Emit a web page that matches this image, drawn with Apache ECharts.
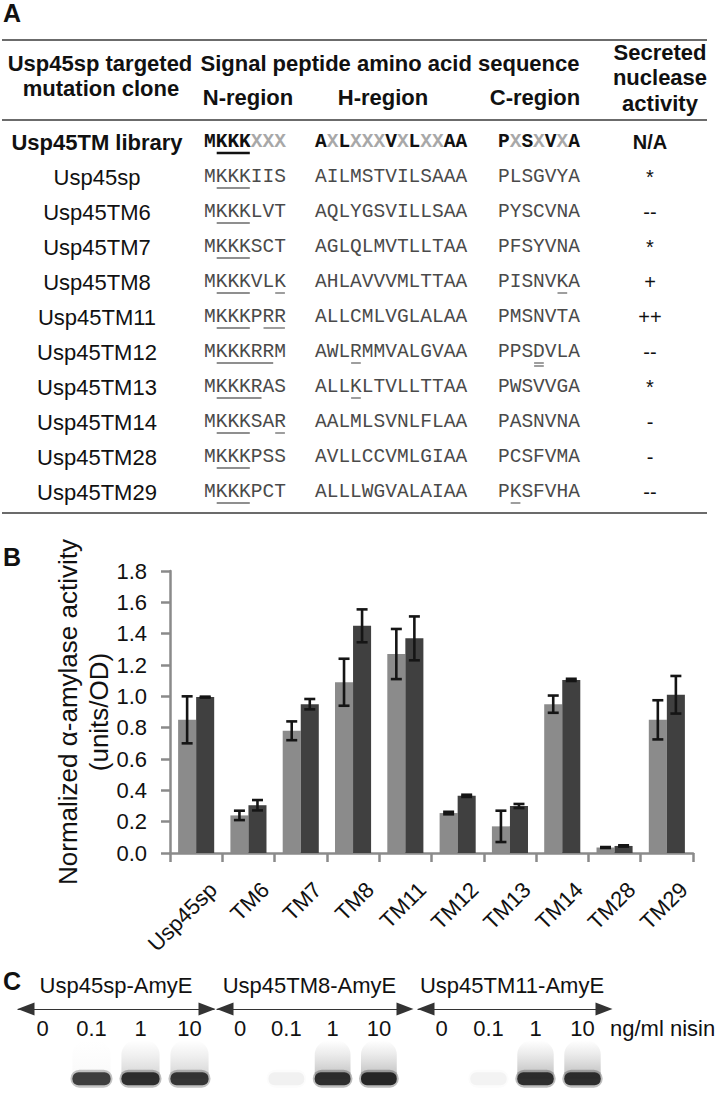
<!DOCTYPE html>
<html><head><meta charset="utf-8">
<script src="https://cdn.jsdelivr.net/npm/echarts@6/dist/echarts.min.js"></script>
<style>html,body{margin:0;padding:0;background:#fff}#c{width:720px;height:1096px}</style>
</head><body><div id="c"></div>
<script>
// ---------- Panel A data ----------
const clones = ['Usp45TM library','Usp45sp','Usp45TM6','Usp45TM7','Usp45TM8','Usp45TM11','Usp45TM12','Usp45TM13','Usp45TM14','Usp45TM28','Usp45TM29'];
const nRegion = ['MKKKXXX','MKKKIIS','MKKKLVT','MKKKSCT','MKKKVLK','MKKKPRR','MKKKRRM','MKKKRAS','MKKKSAR','MKKKPSS','MKKKPCT'];
const hRegion = ['AXLXXXVXLXXAA','AILMSTVILSAAA','AQLYGSVILLSAA','AGLQLMVTLLTAA','AHLAVVVMLTTAA','ALLCMLVGLALAA','AWLRMMVALGVAA','ALLKLTVLLTTAA','AALMLSVNLFLAA','AVLLCCVMLGIAA','ALLLWGVALAIAA'];
const cRegion = ['PXSXVXA','PLSGVYA','PYSCVNA','PFSYVNA','PISNVKA','PMSNVTA','PPSDVLA','PWSVVGA','PASNVNA','PCSFVMA','PKSFVHA'];
const nuclease = ['N/A','*','--','*','+','++','--','*','-','-','--'];
// underlined residues [first, last] (0-based); cDouble marks double underline
const nUnder = [[[1,3]],[[1,3]],[[1,3]],[[1,3]],[[1,3],[6,6]],[[1,3],[5,6]],[[1,5]],[[1,4]],[[1,3],[6,6]],[[1,3]],[[1,3]]];
const hUnder = [[],[],[],[],[],[],[[3,3]],[[3,3]],[],[],[]];
const cUnder = [[],[],[],[],[[5,5]],[],[],[],[],[],[[1,1]]];
const cDouble = [[],[],[],[],[],[],[[3,3]],[],[],[],[]];

// ---------- Panel B data ----------
const categories = ['Usp45sp','TM6','TM7','TM8','TM11','TM12','TM13','TM14','TM28','TM29'];
const lightVals = [0.85, 0.24, 0.78, 1.09, 1.27, 0.255, 0.17, 0.95, 0.035, 0.85];
const lightErr  = [0.15, 0.03, 0.06, 0.15, 0.16, 0.008, 0.10, 0.055, 0.003, 0.125];
const darkVals  = [0.995, 0.305, 0.95, 1.45, 1.37, 0.365, 0.30, 1.105, 0.045, 1.01];
const darkErr   = [0.003, 0.033, 0.033, 0.105, 0.14, 0.007, 0.013, 0.007, 0.004, 0.12];

// ---------- Panel C data ----------
const constructs = ['Usp45sp-AmyE','Usp45TM8-AmyE','Usp45TM11-AmyE'];
const nisin = ['0','0.1','1','10'];
const bandCore = [[0,0.85,0.95,0.9],[0,0.05,0.95,1.0],[0,0.04,0.95,0.95]];
const bandSmear = [[0,0.04,0.28,0.28],[0,0,0.4,0.42],[0,0,0.42,0.42]];

// ---------- layout / style ----------
const SANS = 'Liberation Sans, Arial, sans-serif';
const MONO = 'Liberation Mono, Courier New, monospace';
const SEQ_FS = 19.5, CW = SEQ_FS * 0.6;
const COL = {name: 97, n: 204, h: 315, c: 498, nuc: 650};
const GAPPCT = 0.31;
const gelGrids = [
  {left: 18, width: 196, off: [8, -7]},
  {left: 217, width: 185, off: [8, 3]},
  {left: 418, width: 188, off: [8, -2]}
];

function runs(s){
  let out = '', cur = '', curType = null;
  for (const ch of s){
    const t = ch === 'X' ? 'g' : 'b';
    if (t !== curType && cur){ out += '{'+curType+'|'+cur+'}'; cur=''; }
    curType = t; cur += ch;
  }
  if (cur) out += '{'+curType+'|'+cur+'}';
  return out;
}

function underlines(x0, y, ranges, color, w, dbl){
  const res = [];
  ranges.forEach(r => {
    const xa = x0 + r[0]*CW + 1, xb = x0 + (r[1]+1)*CW - 1;
    res.push({type:'line', shape:{x1:xa,y1:y,x2:xb,y2:y}, style:{stroke:color, lineWidth:w}});
    if (dbl) res.push({type:'line', shape:{x1:xa,y1:y+3,x2:xb,y2:y+3}, style:{stroke:color, lineWidth:w}});
  });
  return res;
}

function rowRender(params, api){
  const i = api.value(1);
  const y = api.coord([0, i])[1];
  const lib = i === 0;
  const ch = [];
  ch.push({type:'text', style:{text: clones[i], x: COL.name, y: y, align:'center', verticalAlign:'middle',
    fontSize: 22, fontFamily: SANS, fontWeight: lib ? 'bold' : 'normal', fill:'#111'}});
  const seqs = [[nRegion[i], COL.n], [hRegion[i], COL.h], [cRegion[i], COL.c]];
  seqs.forEach(([s, x]) => {
    if (lib){
      ch.push({type:'text', style:{text: runs(s), x: x, y: y, align:'left', verticalAlign:'middle',
        fontSize: SEQ_FS, fontFamily: MONO, fontWeight:'bold',
        rich: {b:{fill:'#111', fontSize:SEQ_FS, fontFamily:MONO, fontWeight:'bold'},
               g:{fill:'#a8a8a8', fontSize:SEQ_FS, fontFamily:MONO, fontWeight:'bold'}}}});
    } else {
      ch.push({type:'text', style:{text: s, x: x, y: y, align:'left', verticalAlign:'middle',
        fontSize: SEQ_FS, fontFamily: MONO, fill:'#4a4a4a'}});
    }
  });
  const uy = y + 11;
  const uc = lib ? '#111' : '#6a6a6a', uw = lib ? 2.5 : 1.3;
  ch.push(...underlines(COL.n, uy, nUnder[i], uc, uw, false));
  ch.push(...underlines(COL.h, uy, hUnder[i], uc, uw, false));
  ch.push(...underlines(COL.c, uy, cUnder[i], uc, uw, false));
  ch.push(...underlines(COL.c, uy, cDouble[i], uc, uw, true));
  ch.push({type:'text', style:{text: nuclease[i], x: COL.nuc, y: y, align:'center', verticalAlign:'middle',
    fontSize: 20, fontFamily: SANS, fontWeight: lib ? 'bold' : 'normal', fill:'#111'}});
  return {type:'group', children: ch};
}

function errRender(side){
  return function(params, api){
    const ci = api.value(0), lo = api.value(1), hi = api.value(2);
    const catW = api.size([1, 0])[0];
    const barW = catW * (1 - GAPPCT) / 2;
    const off = side * barW / 2;
    const pLo = api.coord([ci, lo]), pHi = api.coord([ci, hi]);
    const x = pLo[0] + off, cap = 5.5;
    const st = {stroke:'#151515', lineWidth: 2.6};
    return {type:'group', children:[
      {type:'line', shape:{x1:x, y1:pLo[1], x2:x, y2:pHi[1]}, style:st},
      {type:'line', shape:{x1:x-cap, y1:pLo[1], x2:x+cap, y2:pLo[1]}, style:st},
      {type:'line', shape:{x1:x-cap, y1:pHi[1], x2:x+cap, y2:pHi[1]}, style:st}
    ]};
  };
}

function bandRender(g){
  return function(params, api){
    const li = api.value(0), core = bandCore[g][li], smear = bandSmear[g][li];
    const cx = api.coord([li, 0])[0];
    const lw = api.size([1, 0])[0] * 0.86;
    const yc = api.coord([0, 0.16])[1];
    const yt = api.coord([0, 0.62])[1];
    const ch = [];
    if (smear > 0){
      ch.push({type:'rect', shape:{x: cx-lw/2+2, y: yt, width: lw-4, height: yc-yt, r: [14,14,4,4]},
        style:{fill:{type:'linear', x:0, y:0, x2:0, y2:1, colorStops:[
          {offset:0, color:'rgba(120,120,120,0)'},
          {offset:0.35, color:'rgba(120,120,120,'+(smear*0.35)+')'},
          {offset:1, color:'rgba(90,90,90,'+smear+')'}]}}});
    }
    if (core > 0){
      ch.push({type:'rect', shape:{x: cx-lw/2, y: yc-9, width: lw, height: 18, r: 9},
        style:{fill:'rgba(60,60,60,'+(core*0.35)+')'}});
      ch.push({type:'rect', shape:{x: cx-lw/2+2, y: yc-6.5, width: lw-4, height: 13, r: 6},
        style:{fill:'rgba(38,38,38,'+core+')'}});
    }
    return {type:'group', children: ch};
  };
}

const grids = [
  {left:0, right:0, top:124.5, height:385, containLabel:false, outerBoundsMode:'none'},
  {left:170, right:27, top:571, height:282, containLabel:false, outerBoundsMode:'none'}
];
gelGrids.forEach(g => grids.push({left:g.left, width:g.width, top:1009, height:83, containLabel:false, outerBoundsMode:'none'}));

const xAxes = [
  {gridIndex:0, type:'value', min:0, max:720, show:false},
  {gridIndex:1, type:'category', data:categories,
    axisLine:{show:true, lineStyle:{color:'#8a8a8a', width:2.5}},
    axisTick:{show:true, length:9, lineStyle:{color:'#8a8a8a', width:2.5}},
    axisLabel:{rotate:45, interval:0, fontSize:22, color:'#111', fontFamily:SANS, margin:16, verticalAlign:'top', padding:[13,0,0,0]},
    splitLine:{show:false}}
];
const yAxes = [
  {gridIndex:0, type:'category', data:clones, inverse:true, show:false},
  {gridIndex:1, type:'value', min:0, max:1.8, interval:0.2,
    axisLine:{show:true, lineStyle:{color:'#8a8a8a', width:2.5}},
    axisTick:{show:true, length:9, lineStyle:{color:'#8a8a8a', width:2.5}},
    axisLabel:{fontSize:22, color:'#111', fontFamily:SANS, margin:23, formatter: v => v.toFixed(1)},
    splitLine:{show:false},
    name:'Normalized \u03b1-amylase activity\n(units/OD)', nameLocation:'middle', nameGap:56, nameMoveOverlap:false,
    nameTextStyle:{fontSize:26, color:'#111', fontFamily:SANS, lineHeight:31}}
];
gelGrids.forEach((g, k) => {
  xAxes.push({gridIndex:2+k, type:'category', data:nisin, position:'top',
    axisLine:{show:true, onZero:false, symbol:['triangle','triangle'], symbolSize:[13,17], symbolOffset:g.off,
      lineStyle:{color:'#333', width:1.2}},
    axisTick:{show:false},
    axisLabel:{inside:true, interval:0, fontSize:22, color:'#111', fontFamily:SANS, margin:8},
    name: constructs[k], nameLocation:'middle', nameGap:13, nameMoveOverlap:false,
    nameTextStyle:{fontSize:22, color:'#111', fontFamily:SANS}});
  yAxes.push({gridIndex:2+k, type:'value', min:0, max:1, show:false});
});

const series = [
  {type:'custom', xAxisIndex:0, yAxisIndex:0, renderItem: rowRender, data: clones.map((c,i)=>[0,i])},
  {type:'bar', xAxisIndex:1, yAxisIndex:1, data: lightVals, itemStyle:{color:'#8b8b8b'}, barGap:'0%', barCategoryGap:(GAPPCT*100)+'%'},
  {type:'bar', xAxisIndex:1, yAxisIndex:1, data: darkVals, itemStyle:{color:'#404040'}, barGap:'0%', barCategoryGap:(GAPPCT*100)+'%'},
  {type:'custom', xAxisIndex:1, yAxisIndex:1, z:5, renderItem: errRender(-1), data: lightVals.map((v,i)=>[i, v-lightErr[i], v+lightErr[i]])},
  {type:'custom', xAxisIndex:1, yAxisIndex:1, z:5, renderItem: errRender(1), data: darkVals.map((v,i)=>[i, v-darkErr[i], v+darkErr[i]])}
];
gelGrids.forEach((g, k) => {
  series.push({type:'custom', xAxisIndex:2+k, yAxisIndex:2+k, renderItem: bandRender(k), data: nisin.map((n,i)=>[i, 0])});
});

function txt(text, x, y, opt){
  opt = opt || {};
  return {type:'text', silent:true, style:Object.assign({text:text, x:x, y:y, fontSize:22, fontFamily:SANS,
    fontWeight:'normal', fill:'#111', align:'center', verticalAlign:'middle', textAlign:'center', textVerticalAlign:'middle'}, opt)};
}
function hline(y){
  return {type:'line', silent:true, shape:{x1:2, y1:y, x2:707, y2:y}, style:{stroke:'#3a3a3a', lineWidth:1.6}};
}
const B = {fontWeight:'bold'};
const graphic = [
  txt('A', 12, 13, {fontWeight:'bold', fontSize:25}),
  hline(40), hline(120), hline(513),
  txt('Usp45sp targeted', 100, 63, B),
  txt('mutation clone', 101, 88, B),
  txt('Signal peptide amino acid sequence', 390, 63, B),
  txt('N-region', 248, 97, B),
  txt('H-region', 383, 97, B),
  txt('C-region', 535, 97, B),
  txt('Secreted', 660, 52, B),
  txt('nuclease', 660, 77, B),
  txt('activity', 660, 103, B),
  txt('B', 12, 557, {fontWeight:'bold', fontSize:25}),
  txt('C', 12, 981, {fontWeight:'bold', fontSize:25}),
  txt('ng/ml nisin', 610, 1028, {align:'left', textAlign:'left'})
];

const chart = echarts.init(document.getElementById('c'), null, {renderer:'svg', width:720, height:1096});
chart.setOption({animation:false, backgroundColor:'#fff', textStyle:{fontFamily:SANS},
  grid: grids, xAxis: xAxes, yAxis: yAxes, series: series, graphic: graphic});
</script></body></html>
